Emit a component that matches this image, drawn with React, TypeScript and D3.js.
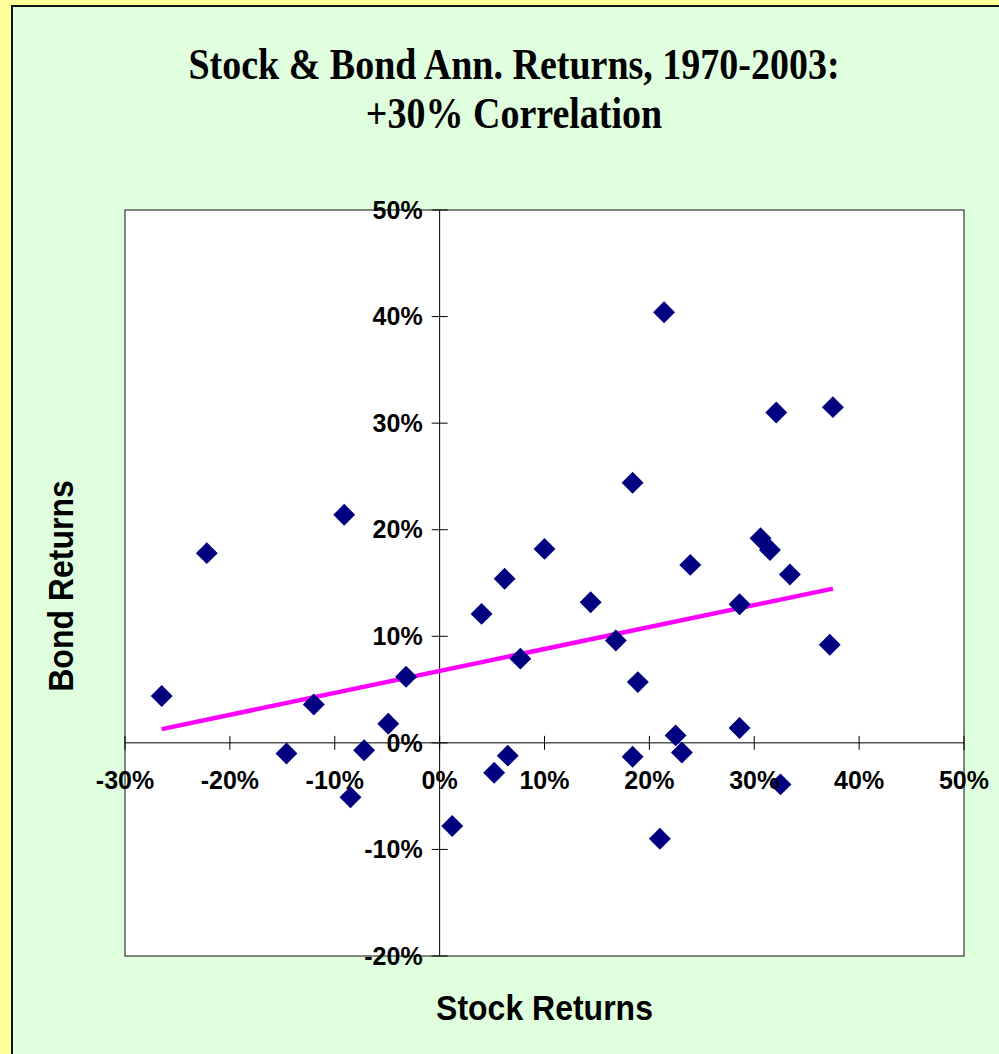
import React, { Component } from 'react'
import * as d3 from 'd3'

// annual returns in %
const stockReturns = [-26.5, -22.2, -9.1, -12.0, -3.2, -4.9, -14.6, -7.2, -8.5, 1.2,
  4.0, 6.2, 14.4, 7.7, 16.8, 18.9, 28.6, 37.2, 33.4, 23.9,
  28.6, 22.5, 23.1, 18.4, 6.5, 5.2, 32.5, 21.0, 21.4, 32.1,
  37.5, 18.4, 10.0, 30.6, 31.5]
const bondReturns = [4.4, 17.8, 21.4, 3.6, 6.2, 1.8, -1.0, -0.7, -5.1, -7.8,
  12.1, 15.4, 13.2, 7.9, 9.6, 5.7, 13.0, 9.2, 15.8, 16.7,
  1.4, 0.7, -0.9, -1.3, -1.2, -2.8, -3.9, -9.0, 40.4, 31.0,
  31.5, 24.4, 18.2, 19.2, 18.1]

const xTicks = [-30, -20, -10, 0, 10, 20, 30, 40, 50]
const yTicks = [-20, -10, 0, 10, 20, 30, 40, 50]

// linear trend (bond = intercept + slope * stock)
const trendSlope = 0.206
const trendIntercept = 6.75

const titleLines = ['Stock & Bond Ann. Returns, 1970-2003:', '+30% Correlation']
const xTitle = 'Stock Returns'
const yTitle = 'Bond Returns'

class ScatterChart extends Component {
  node: SVGSVGElement | null = null
  width = 999
  height = 1054
  left = 125
  right = 964
  top = 210
  bottom = 956

  componentDidMount() {
    this.createChart()
  }
  componentDidUpdate() {
    this.createChart()
  }

  createChart() {
    const svg = d3.select(this.node)
    svg.selectAll('*').remove()

    svg.append('rect').attr('width', this.width).attr('height', this.height).attr('fill', '#FFFF99')
    svg.append('rect')
      .attr('x', 12).attr('y', 6)
      .attr('width', this.width + 20).attr('height', this.height + 20)
      .attr('fill', '#DFFFDF').attr('stroke', '#111').attr('stroke-width', 2)

    const x = d3.scaleLinear().domain([-30, 50]).range([this.left, this.right])
    const y = d3.scaleLinear().domain([-20, 50]).range([this.bottom, this.top])

    // title
    const title = svg.append('g')
      .attr('font-family', '"Liberation Serif", "Times New Roman", serif')
      .attr('font-weight', 'bold')
      .attr('font-size', 38)
      .attr('text-anchor', 'middle')
    titleLines.forEach((t, i) => {
      title.append('text')
        .attr('transform', `translate(514, ${79 + i * 49}) scale(1, 1.18)`)
        .text(t)
    })

    // plot area
    svg.append('rect')
      .attr('x', this.left).attr('y', this.top)
      .attr('width', this.right - this.left).attr('height', this.bottom - this.top)
      .attr('fill', '#fff').attr('stroke', '#111').attr('stroke-width', 1)

    const x0 = x(0), y0 = y(0)
    svg.append('line')
      .attr('x1', this.left).attr('x2', this.right).attr('y1', y0).attr('y2', y0)
      .attr('stroke', '#000')
    svg.append('line')
      .attr('x1', x0).attr('x2', x0).attr('y1', this.top).attr('y2', this.bottom)
      .attr('stroke', '#000')

    svg.append('g').selectAll('line').data(xTicks).enter().append('line')
      .attr('x1', d => x(d)).attr('x2', d => x(d))
      .attr('y1', y0 - 7).attr('y2', y0 + 7)
      .attr('stroke', '#000')
    svg.append('g').selectAll('line').data(yTicks).enter().append('line')
      .attr('x1', x0 - 8).attr('x2', x0 + 8)
      .attr('y1', d => y(d)).attr('y2', d => y(d))
      .attr('stroke', '#000')

    const fmt = (d: number) => `${d}%`

    // trend line
    const [xMin, xMax] = d3.extent(stockReturns) as [number, number]
    const line = d3.line<number>()
      .x(d => x(d))
      .y(d => y(trendIntercept + trendSlope * d))
    svg.append('path')
      .attr('d', line([xMin, xMax]))
      .attr('stroke', '#FF00FF').attr('stroke-width', 4.5).attr('fill', 'none')

    // points
    const diamond = d3.symbol().type(d3.symbolSquare).size(240)
    svg.append('g').selectAll('path')
      .data(stockReturns.map((s, i) => [s, bondReturns[i]]))
      .enter().append('path')
      .attr('d', diamond())
      .attr('transform', d => `translate(${x(d[0])}, ${y(d[1])}) rotate(45)`)
      .attr('fill', '#000080')

    // tick labels
    const labels = svg.append('g')
      .attr('font-family', '"Liberation Sans", Arial, sans-serif')
      .attr('font-weight', 'bold')
      .attr('font-size', 25)
    labels.selectAll('.xl').data(xTicks).enter().append('text')
      .attr('x', d => x(d)).attr('y', y0 + 46)
      .attr('text-anchor', 'middle')
      .text(fmt)
    labels.selectAll('.yl').data(yTicks).enter().append('text')
      .attr('x', x0 - 17).attr('y', d => y(d))
      .attr('dy', '0.35em')
      .attr('text-anchor', 'end')
      .text(fmt)

    // axis titles
    const axisTitles = svg.append('g')
      .attr('font-family', '"Liberation Sans", Arial, sans-serif')
      .attr('font-weight', 'bold')
      .attr('font-size', 32)
      .attr('text-anchor', 'middle')
    axisTitles.append('text')
      .attr('transform', `translate(${(this.left + this.right) / 2}, 1020) scale(1, 1.12)`)
      .text(xTitle)
    axisTitles.append('text')
      .attr('transform', `translate(73, 586) rotate(-90) scale(1, 1.08)`)
      .text(yTitle)
  }

  render() {
    return <svg ref={node => { this.node = node }} width={this.width} height={this.height}
      style={{ position: 'absolute', left: 0, top: 0, display: 'block' }}>
    </svg>
  }
}

export default function App() {
  return <ScatterChart />
}
